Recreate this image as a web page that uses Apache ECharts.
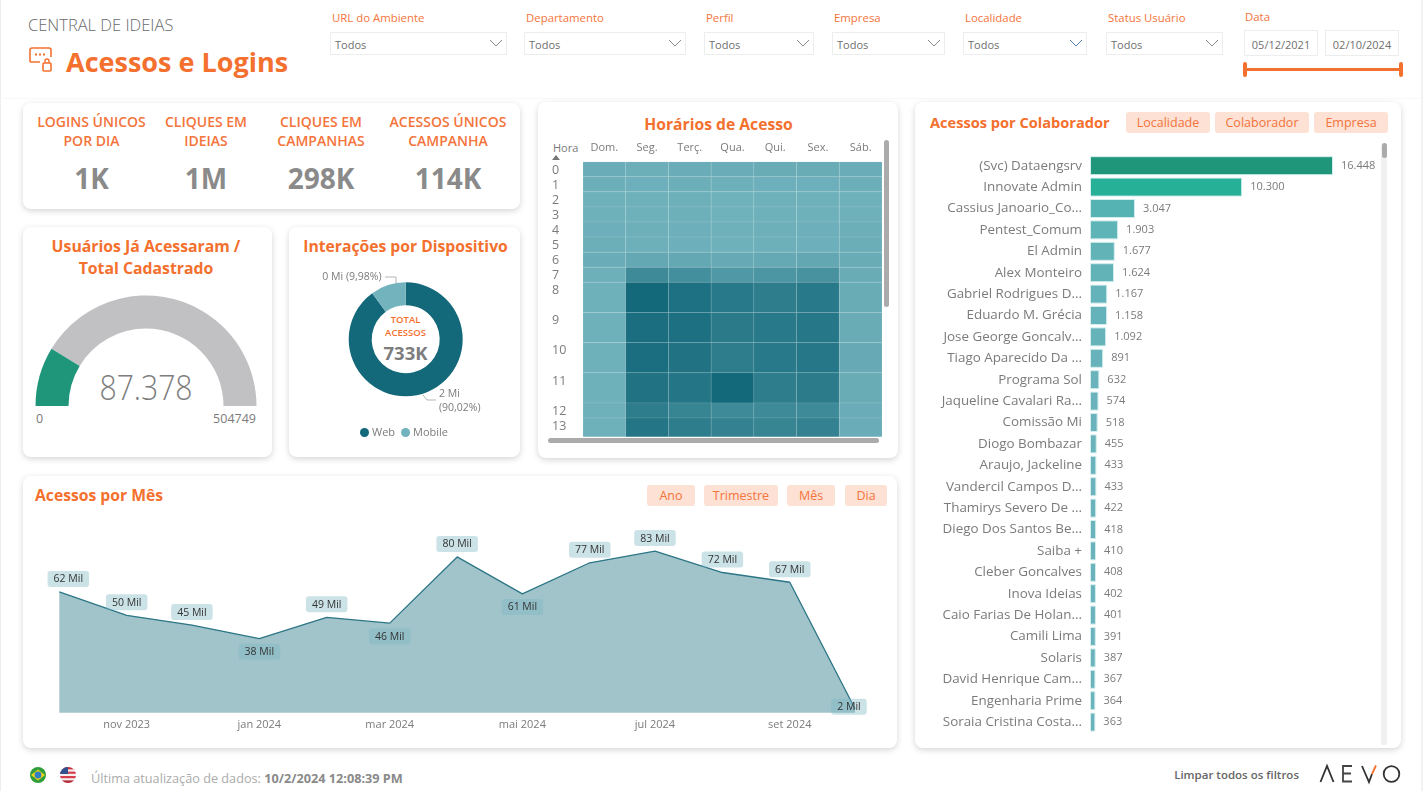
<!DOCTYPE html>
<html lang="pt-BR">
<head>
<meta charset="utf-8">
<title>Acessos e Logins</title>
<script src="https://cdn.jsdelivr.net/npm/echarts@6/dist/echarts.min.js"></script>
<style>
  html, body { margin: 0; padding: 0; background: #fff; width: 1423px; height: 791px; overflow: hidden; font-family: "Open Sans", "Noto Sans", sans-serif; }
  #page { position: absolute; left: 0; top: 0; width: 1423px; height: 791px; }
  #page::before { content: ""; position: absolute; left: 0; top: 0; bottom: 0; width: 1px; background: #eee; }
  #page::after { content: ""; position: absolute; right: 0; top: 0; bottom: 0; width: 2px; background: #f2f2f2; }
  .card { position: absolute; background: #fff; border-radius: 8px; box-shadow: 0 2px 6px rgba(0,0,0,.17); }
  .t { position: absolute; white-space: nowrap; line-height: 1; }
  .box { position: absolute; background: #fff; border: 1px solid #ededed; box-sizing: border-box; }
  .btn { position: absolute; box-sizing: border-box; background: #fde1d4; color: #f4743b; border-radius: 3px; text-align: center; font-size: 12.5px; height: 21px; line-height: 22px; }
  .bar { position: absolute; border-radius: 3px; }
  #chart { position: absolute; left: 0; top: 0; width: 1423px; height: 791px; z-index: 2; }
  svg { position: absolute; overflow: visible; }
</style>
</head>
<body>
<div id="page"></div>
<div id="chart"></div>
<script>
// Slicers along the top of the report
const filterLabels = ['URL do Ambiente', 'Departamento', 'Perfil', 'Empresa', 'Localidade', 'Status Usuário'];
const filterEdges = [[330, 507], [524, 686], [704, 814], [832, 945], [963, 1087], [1106, 1223]];
const dateRange = ['05/12/2021', '02/10/2024'];

// Headline figures
const kpiTitles = [['LOGINS ÚNICOS', 'POR DIA'], ['CLIQUES EM', 'IDEIAS'], ['CLIQUES EM', 'CAMPANHAS'], ['ACESSOS ÚNICOS', 'CAMPANHA']];
const kpiValues = ['1K', '1M', '298K', '114K'];

// Users who have accessed against total registered
const usersAccessed = 87378;
const usersRegistered = 504749;

// Interactions per device
const deviceNames = ['Web', 'Mobile'];
const deviceShare = [90.02, 9.98];
const deviceMi = ['2 Mi', '0 Mi'];
const totalAccesses = '733K';

// Access hours, day by hour; intensity on a 0-100 scale
const weekDays = ['Dom.', 'Seg.', 'Terç.', 'Qua.', 'Qui.', 'Sex.', 'Sáb.'];
const hours = ['0', '1', '2', '3', '4', '5', '6', '7', '8', '9', '10', '11', '12', '13'];
const hourRowSpan = [1, 1, 1, 1, 1, 1, 1, 1, 2, 2, 2, 2, 1, 2];
const hourIntensity = [
  [8, 6, 8, 8, 10, 10, 8],
  [6, 5, 6, 4, 5, 5, 6],
  [3, 3, 4, 2, 3, 3, 3],
  [3, 3, 4, 2, 3, 3, 3],
  [5, 4, 5, 3, 4, 5, 6],
  [6, 4, 5, 3, 4, 5, 7],
  [8, 15, 15, 12, 14, 16, 10],
  [4, 55, 48, 36, 40, 44, 10],
  [3, 100, 88, 78, 72, 78, 10],
  [3, 92, 90, 76, 78, 80, 10],
  [3, 92, 85, 72, 78, 80, 12],
  [3, 85, 82, 100, 72, 75, 10],
  [3, 72, 62, 55, 55, 55, 8],
  [3, 82, 72, 65, 62, 65, 8]
];

// Monthly accesses, in thousands
const months = ['2023-10-01', '2023-11-01', '2023-12-01', '2024-01-01', '2024-02-01', '2024-03-01', '2024-04-01', '2024-05-01', '2024-06-01', '2024-07-01', '2024-08-01', '2024-09-01', '2024-10-01'];
const monthlyAccess = [62, 50, 45, 38, 49, 46, 80, 61, 77, 83, 72, 67, 2];
const monthTicks = ['2023-11-01', '2024-01-01', '2024-03-01', '2024-05-01', '2024-07-01', '2024-09-01'];
const monthNames = ['jan', 'fev', 'mar', 'abr', 'mai', 'jun', 'jul', 'ago', 'set', 'out', 'nov', 'dez'];
const labelsBelowLine = [38, 46, 61];

// Accesses per collaborator
const collaborators = ['(Svc) Dataengsrv', 'Innovate Admin', 'Cassius Janoario_Co...', 'Pentest_Comum', 'El Admin', 'Alex Monteiro', 'Gabriel Rodrigues D...', 'Eduardo M. Grécia', 'Jose George Goncalv...', 'Tiago Aparecido Da ...', 'Programa Sol', 'Jaqueline Cavalari Ra...', 'Comissão Mi', 'Diogo Bombazar', 'Araujo, Jackeline', 'Vandercil Campos D...', 'Thamirys Severo De ...', 'Diego Dos Santos Be...', 'Saiba +', 'Cleber Goncalves', 'Inova Ideias', 'Caio Farias De Holan...', 'Camili Lima', 'Solaris', 'David Henrique Cam...', 'Engenharia Prime', 'Soraia Cristina Costa...'];
const collaboratorAccess = [16448, 10300, 3047, 1903, 1677, 1624, 1167, 1158, 1092, 891, 632, 574, 518, 455, 433, 433, 422, 418, 410, 408, 402, 401, 391, 387, 367, 364, 363];

const ORANGE = '#f4702e';
const GREY = '#7b7b7b';
const page = document.getElementById('page');

function el(cls, css, text) {
  const d = document.createElement('div');
  d.className = cls;
  d.style.cssText = css;
  if (text !== undefined) d.textContent = text;
  page.appendChild(d);
  return d;
}
// Text placed by its vertical centre; align is 'l', 'c' or 'r'
function label(text, x, y, size, color, weight, align) {
  const tx = align === 'c' ? '-50%' : align === 'r' ? '-100%' : '0';
  return el('t', `left:${x}px;top:${y}px;font-size:${size}px;color:${color};font-weight:${weight || 400};transform:translate(${tx},-50%)`, text);
}
function card(x0, y0, x1, y1) {
  el('card', `left:${x0}px;top:${y0}px;width:${x1 - x0}px;height:${y1 - y0}px`);
}
function button(text, x0, x1, y) {
  el('btn', `left:${x0}px;width:${x1 - x0}px;top:${y}px`, text);
}
function inlineSvg(x, y, w, h, body) {
  const wrap = document.createElement('div');
  wrap.innerHTML = `<svg style="left:${x}px;top:${y}px" width="${w}" height="${h}" viewBox="0 0 ${w} ${h}">${body}</svg>`;
  page.appendChild(wrap.firstChild);
}
function thousands(v) {
  return String(v).replace(/\B(?=(\d{3})+$)/g, '.');
}

// Header
el('', 'position:absolute;left:0;right:0;top:98px;height:1px;background:#f8f8f8');
label('CENTRAL DE IDEIAS', 28, 25, 16.5, '#6a6a6a', 300);
label('Acessos e Logins', 66, 61, 27, ORANGE, 700);
inlineSvg(28, 47, 25, 26,
  `<path d="M2 15V3a2 2 0 0 1 2-2h17a2 2 0 0 1 2 2v7M2 15h10" fill="none" stroke="${ORANGE}" stroke-width="1.6"/>
   <rect x="7" y="6.5" width="2" height="2" fill="${ORANGE}"/><rect x="11" y="6.5" width="2" height="2" fill="${ORANGE}"/><rect x="15" y="6.5" width="2" height="2" fill="${ORANGE}"/>
   <rect x="15" y="16" width="8" height="8" rx="1" fill="none" stroke="${ORANGE}" stroke-width="1.6"/>
   <path d="M17 16v-2a2 2 0 0 1 4 0v2" fill="none" stroke="${ORANGE}" stroke-width="1.4"/>`);

filterLabels.forEach((name, i) => {
  const [x0, x1] = filterEdges[i];
  label(name, x0 + 2, 17.5, 11.4, '#f4743b');
  el('box', `left:${x0}px;top:32px;width:${x1 - x0}px;height:23px`);
  label('Todos', x0 + 5, 44, 11, '#6f6f6f');
  const cx = x1 - 11;
  inlineSvg(cx - 7, 39, 14, 8, `<path d="M1 1l6 6 6-6" fill="none" stroke="${i === 4 ? '#5a7fa8' : '#8a8a8a'}" stroke-width="1"/>`);
});
label('Data', 1245, 17, 11.4, '#f4743b');
el('box', 'left:1244px;top:30px;width:74px;height:26px');
el('box', 'left:1325px;top:30px;width:74px;height:26px');
label(dateRange[0], 1281, 44, 11, '#6f6f6f', 400, 'c');
label(dateRange[1], 1362, 44, 11, '#6f6f6f', 400, 'c');
el('bar', `left:1245px;top:68px;width:155px;height:3px;background:${ORANGE};border-radius:0`);
el('bar', `left:1243px;top:62px;width:4px;height:15px;background:${ORANGE}`);
el('bar', `left:1399px;top:62px;width:4px;height:15px;background:${ORANGE}`);

// Panels
card(23, 103, 520, 209);
card(23, 227, 272, 457);
card(289, 227, 520, 457);
card(538, 102, 898, 458);
card(23, 476, 897, 748);
card(915, 102, 1401, 748);

// Headline figures
const kpiCentres = [91.5, 206, 321, 448];
kpiTitles.forEach((lines, i) => {
  label(lines[0], kpiCentres[i], 122, 14, '#f4743b', 600, 'c');
  label(lines[1], kpiCentres[i], 141, 14, '#f4743b', 600, 'c');
  label(kpiValues[i], kpiCentres[i], 178, 28, '#8a8a8a', 700, 'c');
});

// Panel titles and the figures printed inside the gauge and the donut
label('Usuários Já Acessaram /', 146, 246.5, 15.8, ORANGE, 700, 'c');
label('Total Cadastrado', 146, 268.5, 15.8, ORANGE, 700, 'c');
label('0', 36, 419, 12.5, GREY);
label(String(usersRegistered), 256, 419, 12.5, GREY, 400, 'r');
const gaugeValue = label(thousands(usersAccessed), 146, 386, 35, '#7d7d7d', 300, 'c');
gaugeValue.style.transform = 'translate(-50%,-50%) scaleX(0.86)';
label('Interações por Dispositivo', 405.5, 246.5, 15.7, ORANGE, 700, 'c');
label('TOTAL', 405.5, 319.5, 9.5, ORANGE, 600, 'c');
label('ACESSOS', 405.5, 332.5, 9.5, ORANGE, 600, 'c');
label(totalAccesses, 405.5, 353, 18.5, '#7d7d7d', 700, 'c');
label('Horários de Acesso', 718.5, 124.5, 15.7, ORANGE, 700, 'c');
label('Hora', 553, 147, 11, GREY);
inlineSvg(552, 155, 9, 5, '<path d="M0 5L4 0L8 5Z" fill="#777"/>');
label('Acessos por Mês', 35, 496, 15.7, ORANGE, 700);
button('Ano', 647, 695, 485);
button('Trimestre', 704, 778, 485);
button('Mês', 787, 835, 485);
button('Dia', 845, 887, 485);
label('Acessos por Colaborador', 930, 122, 14.6, ORANGE, 700);
button('Localidade', 1126, 1210, 112);
button('Colaborador', 1215, 1309, 112);
button('Empresa', 1314, 1388, 112);

// Scrollbars
el('bar', 'left:884px;top:140px;width:5px;height:167px;background:#ababab');
el('bar', 'left:548px;top:438px;width:331px;height:5px;background:#ababab');
el('bar', 'left:1381px;top:143px;width:6px;height:602px;background:#f0f0f0;border-radius:2px');
el('bar', 'left:1381.5px;top:143px;width:5px;height:15px;background:#ababab');

// Footer
inlineSvg(30, 767, 16, 16,
  `<circle cx="8" cy="8" r="8" fill="#2e9e3a"/><path d="M8 2.5L15 8L8 13.5L1 8Z" fill="#f2d21b"/><circle cx="8" cy="8" r="3.4" fill="#2f7fc4"/>`);
inlineSvg(60, 767, 16, 16,
  `<defs><clipPath id="fl"><circle cx="8" cy="8" r="8"/></clipPath></defs>
   <g clip-path="url(#fl)"><rect width="16" height="16" fill="#f6f0f0"/>
   <rect y="0" width="16" height="2.4" fill="#c8303c"/><rect y="4.6" width="16" height="2.2" fill="#d5404c"/><rect y="9" width="16" height="2.2" fill="#d5404c"/><rect y="13.4" width="16" height="2.6" fill="#b32a38"/>
   <rect width="8" height="7" fill="#35508f"/></g>`);
const stamp = label('Última atualização de dados: ', 91, 778, 12.7, '#ababab');
const stampTime = document.createElement('b');
stampTime.textContent = '10/2/2024 12:08:39 PM';
stampTime.style.color = '#8a8a8a';
stamp.appendChild(stampTime);
label('Limpar todos os filtros', 1299, 775, 11.5, '#666', 600, 'r');
inlineSvg(1319, 764, 82, 19,
  `<path d="M1.5 18L8 2L14.5 18" fill="none" stroke="#333" stroke-width="1.8"/>
   <path d="M33 2h-9v15.5h9M24 9.5h8" fill="none" stroke="#444" stroke-width="1.8"/>
   <path d="M43 2L50 18L53 10" fill="none" stroke="#333" stroke-width="1.8"/><path d="M53 10L57 1.5" stroke="${ORANGE}" stroke-width="1.8"/>
   <circle cx="72.5" cy="10" r="7.8" fill="none" stroke="#333" stroke-width="1.8"/>`);

// Chart helpers
const rowStart = [];
hourRowSpan.reduce((acc, span, i) => { rowStart[i] = acc; return acc + span; }, 0);
const rowLabelAt = rowStart.map(v => v + 0.55);
const heatData = [];
hourIntensity.forEach((row, h) => row.forEach((v, d) => heatData.push([d, h, v])));
const toTime = s => new Date(s + 'T00:00:00').getTime();

function barColor(v) {
  if (v > 16000) return '#1f967a';
  if (v > 10000) return '#26b098';
  const t = Math.min(1, (3100 - v) / 2600);
  return echarts.color.lerp(Math.max(0, t), ['#55b4b3', '#6bb3bc']);
}

const chart = echarts.init(document.getElementById('chart'), null, { renderer: 'canvas' });
chart.setOption({
  animation: false,
  backgroundColor: 'transparent',
  textStyle: { fontFamily: '"Open Sans", "Noto Sans", sans-serif' },
  grid: [
    { left: 583, top: 161.7, width: 299, height: 275 },
    { left: 59.3, top: 518, width: 795.7, height: 194.7 },
    { left: 1090, top: 155, width: 295.5, height: 577.8 }
  ],
  xAxis: [
    {
      gridIndex: 0, type: 'category', position: 'top', data: weekDays,
      axisLine: { show: false }, axisTick: { show: false },
      axisLabel: { color: GREY, fontSize: 11, margin: 8 }
    },
    {
      gridIndex: 1, type: 'value', min: toTime(months[0]), max: toTime(months[months.length - 1]),
      axisLine: { show: false }, axisTick: { show: false }, splitLine: { show: false },
      axisLabel: {
        color: GREY, fontSize: 11, margin: 7, customValues: monthTicks.map(toTime),
        formatter: v => { const d = new Date(v); return monthNames[d.getMonth()] + ' ' + d.getFullYear(); }
      }
    },
    { gridIndex: 2, type: 'value', min: 0, max: 20000, show: false }
  ],
  yAxis: [
    {
      gridIndex: 0, type: 'value', inverse: true, min: 0, max: 18.24,
      axisLine: { show: false }, axisTick: { show: false }, splitLine: { show: false },
      axisLabel: {
        color: GREY, fontSize: 12.5, align: 'left', margin: 31, customValues: rowLabelAt,
        formatter: v => hours[rowLabelAt.indexOf(v)]
      }
    },
    { gridIndex: 1, type: 'value', min: 0, max: 100, show: false },
    {
      gridIndex: 2, type: 'category', inverse: true, data: collaborators,
      axisLine: { show: false }, axisTick: { show: false },
      axisLabel: { color: GREY, fontSize: 13.4, margin: 8, interval: 0 }
    }
  ],
  visualMap: {
    show: false, seriesIndex: 2, dimension: 2, min: 0, max: 100,
    inRange: { color: ['#72b3bd', '#13687a'] }
  },
  legend: {
    data: deviceNames, left: 355, top: 422, icon: 'circle', itemWidth: 9, itemHeight: 9, itemGap: 6,
    selectedMode: false, textStyle: { color: GREY, fontSize: 11, padding: [0, 0, 0, -2] }
  },
  series: [
    {
      type: 'gauge', center: [146, 406], radius: 110.5, startAngle: 180, endAngle: 0,
      min: 0, max: usersRegistered,
      axisLine: { lineStyle: { width: 33, color: [[usersAccessed / usersRegistered, '#1f967a'], [1, '#c1c1c3']] } },
      axisTick: { show: false }, splitLine: { show: false }, axisLabel: { show: false }, pointer: { show: false },
      title: { show: false }, detail: { show: false },
      data: [{ value: usersAccessed }]
    },
    {
      type: 'pie', center: [405.7, 339.3], radius: [34, 57], startAngle: 90, clockwise: true,
      data: deviceNames.map((name, i) => ({ name, value: deviceShare[i] })),
      color: ['#13687a', '#72b3bd'],
      label: {
        color: GREY, fontSize: 10.5, lineHeight: 14,
        formatter: p => {
          const i = p.dataIndex;
          const pct = deviceShare[i].toFixed(2).replace('.', ',') + '%';
          return deviceMi[i] + (i === 0 ? '\n' : ' ') + '(' + pct + ')';
        }
      },
      labelLine: { lineStyle: { color: '#b5b5b5', width: 1 } },
      labelLayout: p => p.dataIndex === 0
        ? { x: 439, y: 401, align: 'left', verticalAlign: 'middle', labelLinePoints: [[423, 395], [427, 400], [436, 400]] }
        : { x: 381.5, y: 277, align: 'right', verticalAlign: 'middle', labelLinePoints: [[385, 277], [396, 277], [396, 284]] }
    },
    {
      type: 'custom', xAxisIndex: 0, yAxisIndex: 0, clip: true, coordinateSystem: 'cartesian2d',
      encode: { x: 0, y: 1 },
      data: heatData,
      renderItem: (params, api) => {
        const h = api.value(1);
        const a = api.coord([api.value(0), rowStart[h]]);
        const b = api.coord([api.value(0), rowStart[h] + hourRowSpan[h]]);
        const w = api.size([1, 0])[0];
        return {
          type: 'rect',
          shape: { x: a[0] - w / 2, y: a[1], width: w, height: b[1] - a[1] },
          style: { fill: api.visual('color'), stroke: 'rgba(255,255,255,0.09)', lineWidth: 1 }
        };
      }
    },
    {
      type: 'line', xAxisIndex: 1, yAxisIndex: 1, showSymbol: true, symbol: 'circle', symbolSize: 0,
      lineStyle: { color: '#2c7686', width: 1.3 },
      itemStyle: { color: '#2c7686' },
      areaStyle: { color: '#13687a', opacity: 0.4 },
      data: months.map((m, i) => {
        const v = monthlyAccess[i];
        const first = i === 0, last = i === months.length - 1;
        return {
          value: [toTime(m), v],
          label: {
            position: last ? 'inside' : labelsBelowLine.includes(v) ? 'bottom' : 'top',
            offset: first ? [9, 0] : last ? [-6, -2] : [0, 0]
          }
        };
      }),
      label: {
        show: true, distance: 5, fontSize: 10.5, color: '#333',
        backgroundColor: 'rgba(125,182,195,0.4)', padding: [3, 6, 2, 6], borderRadius: 3,
        formatter: p => p.value[1] + ' Mil'
      }
    },
    {
      type: 'bar', xAxisIndex: 2, yAxisIndex: 2, barWidth: 19,
      data: collaboratorAccess.map(v => ({ value: v, itemStyle: { color: barColor(v), borderColor: '#d4eeee', borderWidth: 1 } })),
      label: { show: true, position: 'right', distance: 8, color: GREY, fontSize: 11, formatter: p => thousands(p.value) }
    }
  ]
});
</script>
</body>
</html>
